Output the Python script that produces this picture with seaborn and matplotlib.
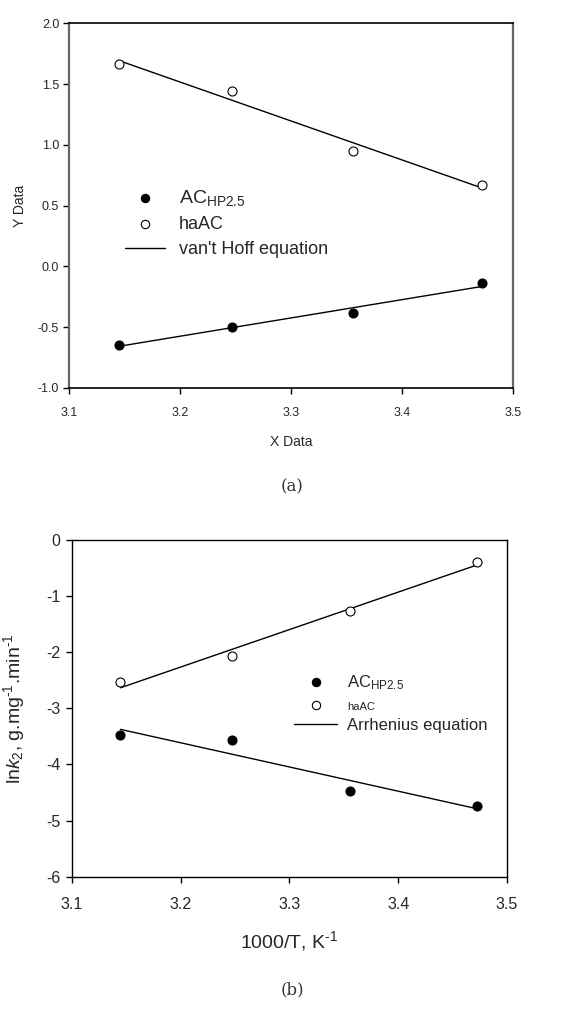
import matplotlib
matplotlib.use("Agg")
import matplotlib.pyplot as plt
import seaborn as sns
import numpy as np
import pandas as pd

# ---- data ----
x_vals = [3.1447, 3.2468, 3.3557, 3.4722]
# panel (a): van't Hoff
a_achp = [-0.648, -0.495, -0.385, -0.139]
a_haac = [1.669, 1.439, 0.952, 0.666]
# panel (b): Arrhenius
b_achp = [-3.476, -3.570, -4.480, -4.740]
b_haac = [-2.540, -2.070, -1.266, -0.386]

a_xticks = [3.1, 3.2, 3.3, 3.4, 3.5]
a_yticks = [-1.0, -0.5, 0.0, 0.5, 1.0, 1.5, 2.0]
b_yticks = [-6, -5, -4, -3, -2, -1, 0]

sns.set_theme(style="white")
plt.rcParams['font.family'] = ['Liberation Sans', 'DejaVu Sans']
plt.rcParams['mathtext.fontset'] = 'custom'
plt.rcParams['mathtext.rm'] = 'Liberation Sans'
plt.rcParams['mathtext.it'] = 'Liberation Sans:italic'
plt.rcParams['axes.unicode_minus'] = False

fig = plt.figure(figsize=(5.84, 10.13), dpi=100)
ax1 = fig.add_axes([0.118, 0.617, 0.760, 0.360])
ax2 = fig.add_axes([0.123, 0.1346, 0.745, 0.3324])

dfa = pd.DataFrame({"x": x_vals, "ach": a_achp, "ha": a_haac})
dfb = pd.DataFrame({"x": x_vals, "ach": b_achp, "ha": b_haac})


def draw(ax, df, line_label, ms):
    sns.scatterplot(data=df, x="x", y="ach", ax=ax, color="black", s=ms,
                    edgecolor="black", linewidth=0.8, label=r"AC$_{\mathregular{HP2.5}}$", zorder=3)
    sns.scatterplot(data=df, x="x", y="ha", ax=ax, color="white", s=ms,
                    edgecolor="black", linewidth=0.8, label="haAC", zorder=3)
    sns.regplot(data=df, x="x", y="ha", ax=ax, scatter=False, ci=None,
                color="black", line_kws={"lw": 1.0}, label=line_label)
    sns.regplot(data=df, x="x", y="ach", ax=ax, scatter=False, ci=None,
                color="black", line_kws={"lw": 1.0})


draw(ax1, dfa, "van't Hoff equation", 42)
draw(ax2, dfb, "Arrhenius equation", 42)

# ---- panel (a) styling ----
ax1.set_xlim(3.1, 3.5)
ax1.set_ylim(-1.0, 2.0)
ax1.set_xticks(a_xticks)
ax1.set_yticks(a_yticks)
ax1.set_xticklabels([f"{v:.1f}" for v in a_xticks])
ax1.set_yticklabels([f"{v:.1f}" for v in a_yticks])
ax1.tick_params(axis="both", direction="out", length=4, width=1, labelsize=9,
                bottom=True, left=True, color="black", pad=3)
ax1.tick_params(axis="x", pad=10)
ax1.set_xlabel("X Data", fontsize=10, labelpad=11)
ax1.set_ylabel("Y Data", fontsize=10, labelpad=8)
for s in ["top", "bottom"]:
    ax1.spines[s].set_color("black")
    ax1.spines[s].set_linewidth(1.2)
for s in ["left", "right"]:
    ax1.spines[s].set_color("#666666")
    ax1.spines[s].set_linewidth(1.6)
leg1 = ax1.legend(loc="upper left", bbox_to_anchor=(0.11, 0.568), frameon=False,
                  fontsize=13, handlelength=2.2, handletextpad=0.8, labelspacing=0.45,
                  borderaxespad=0)
leg1.get_texts()[0].set_fontsize(14)
for h in leg1.legend_handles[:2]:
    try:
        h.set_sizes([36])
    except Exception:
        pass

# ---- panel (b) styling ----
ax2.set_xlim(3.1, 3.5)
ax2.set_ylim(-6, 0)
ax2.set_xticks(a_xticks)
ax2.set_yticks(b_yticks)
ax2.set_xticklabels([f"{v:.1f}" for v in a_xticks])
ax2.set_yticklabels([f"{v}" for v in b_yticks])
ax2.tick_params(axis="both", direction="out", length=4, width=1, labelsize=11.5,
                bottom=True, left=True, color="black", pad=4)
ax2.tick_params(axis="x", pad=11)
ax2.set_xlabel("1000/T, K$^{\\text{-1}}$", fontsize=14, labelpad=12)
ax2.set_ylabel("ln$\\it{k}_{\\mathregular{2}}$, g.mg$^{\\text{-1}}$.min$^{\\text{-1}}$",
               fontsize=14, labelpad=14)
for s in ax2.spines.values():
    s.set_color("black")
    s.set_linewidth(1.0)
leg2 = ax2.legend(loc="upper left", bbox_to_anchor=(0.495, 0.625), frameon=False,
                  fontsize=12, handlelength=2.6, handletextpad=0.6, labelspacing=0.38,
                  borderaxespad=0)
leg2.get_texts()[1].set_fontsize(8)
for h in leg2.legend_handles[:2]:
    try:
        h.set_sizes([36])
    except Exception:
        pass

# ---- captions ----
fig.text(0.5, 1 - 487 / 1013, "(a)", ha="center", va="center", fontsize=12,
         family=["DejaVu Serif"], color="#333333")
fig.text(0.5, 1 - 990 / 1013, "(b)", ha="center", va="center", fontsize=12,
         family=["DejaVu Serif"], color="#333333")

fig.savefig("out.png", dpi=100, facecolor="white")
